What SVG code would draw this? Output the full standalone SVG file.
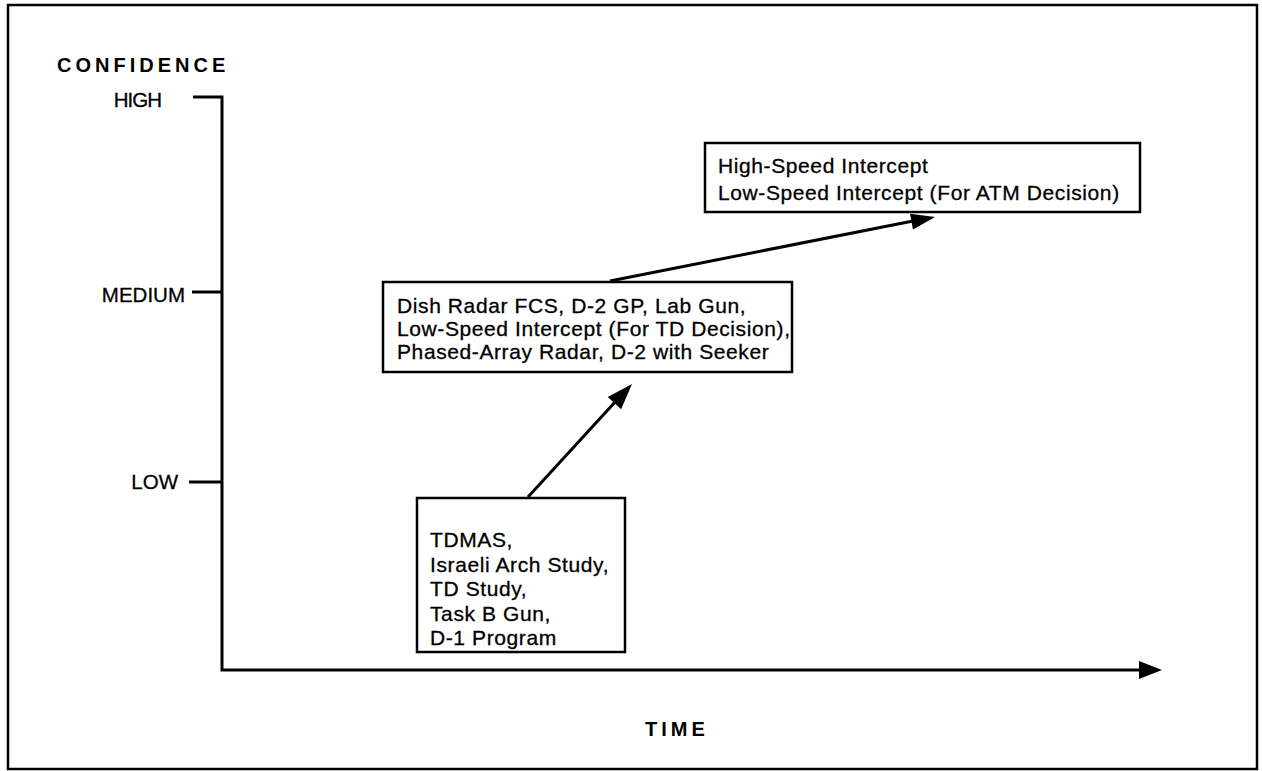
<svg xmlns="http://www.w3.org/2000/svg" width="1262" height="771" viewBox="0 0 1262 771">
<style>
.t{font-family:"Liberation Sans",Arial,sans-serif;font-size:21px;fill:#000;stroke:#000;stroke-width:0.3;letter-spacing:0.6px}
.lbl{font-family:"Liberation Sans",Arial,sans-serif;font-size:20.5px;fill:#000;stroke:#000;stroke-width:0.3}
.b{font-family:"Liberation Sans",Arial,sans-serif;font-weight:bold;font-size:20px;fill:#000;letter-spacing:4px}
.ln{stroke:#000;stroke-width:3;fill:none}
.box{stroke:#000;stroke-width:2.5;fill:#fff}
</style>
<rect x="8" y="5" width="1249" height="764" fill="none" stroke="#000" stroke-width="2.5"/>
<g id="axes">
<text class="b" x="57" y="72">CONFIDENCE</text>
<text class="lbl" x="161" y="107" text-anchor="end" letter-spacing="-1">HIGH</text>
<text class="lbl" x="185" y="302" text-anchor="end">MEDIUM</text>
<text class="lbl" x="178" y="489" text-anchor="end">LOW</text>
<polyline class="ln" points="193,97 222,97 222,670 1141,670"/>
<line class="ln" x1="192" y1="292" x2="222" y2="292"/>
<line class="ln" x1="189" y1="482" x2="222" y2="482"/>
<path d="M1139,661 L1162,670 L1139,679 z" fill="#000"/>
<text class="b" x="645" y="736">TIME</text>
</g>
<g id="node-low">
<rect class="box" x="417" y="498" width="208" height="154"/>
<text class="t" x="430" y="547">TDMAS,</text>
<text class="t" x="430" y="571.5">Israeli Arch Study,</text>
<text class="t" x="430" y="596">TD Study,</text>
<text class="t" x="430" y="620.5">Task B Gun,</text>
<text class="t" x="430" y="645">D-1 Program</text>
</g>
<g id="node-medium">
<rect class="box" x="383" y="282" width="409" height="90"/>
<text class="t" x="397" y="313">Dish Radar FCS, D-2 GP, Lab Gun,</text>
<text class="t" x="397" y="336">Low-Speed Intercept (For TD Decision),</text>
<text class="t" x="397" y="359">Phased-Array Radar, D-2 with Seeker</text>
</g>
<g id="node-high">
<rect class="box" x="705" y="143" width="435" height="69"/>
<text class="t" x="718" y="173">High-Speed Intercept</text>
<text class="t" x="718" y="200">Low-Speed Intercept (For ATM Decision)</text>
</g>
<g id="connectors" fill="#000">
<line class="ln" x1="528" y1="497" x2="616" y2="401"/>
<path d="M632,384 L621.1,409.3 L607.8,397.1 z"/>
<line class="ln" x1="610" y1="281" x2="913" y2="221"/>
<path d="M935,217 L913,229.5 L910,213.8 z"/>
</g>
</svg>
